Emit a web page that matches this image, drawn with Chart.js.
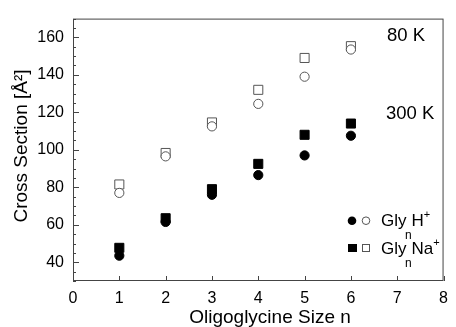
<!DOCTYPE html>
<html>
<head>
<meta charset="utf-8">
<script src="https://cdn.jsdelivr.net/npm/chart.js@4/dist/chart.umd.min.js"></script>
<style>
  html, body { margin: 0; padding: 0; background: #fff; }
  #wrap { width: 456px; height: 327px; }
</style>
</head>
<body>
<div id="wrap"><canvas id="chart" width="456" height="327"></canvas></div>
<script>
const sizes = [1, 2, 3, 4, 5, 6];
const hCold = [77, 96.5, 112.5, 124.5, 139, 153.5];   // Gly_nH+ 80 K (open circles)
const naCold = [81.5, 98.3, 114.6, 132, 149, 155.3];  // Gly_nNa+ 80 K (open squares)
const hWarm = [43.5, 61.5, 76, 86.5, 97, 107.5];      // Gly_nH+ 300 K (filled circles)
const naWarm = [47.7, 63.5, 79, 92.5, 108, 114];      // Gly_nNa+ 300 K (filled squares)
const xTicks = [0, 1, 2, 3, 4, 5, 6, 7, 8];
const yTicks = [40, 60, 80, 100, 120, 140, 160];

const FONT = "'Liberation Sans', Arial, Helvetica, sans-serif";
const AXIS = "#444";

function pts(ys) {
  return sizes.map((n, i) => ({ x: n, y: ys[i] }));
}

function series(ys, style, filled) {
  return {
    data: pts(ys),
    pointStyle: style,
    pointRadius: style === "rect" ? 6.4 : 4.6,
    pointBackgroundColor: filled ? "#000" : "#fff",
    pointBorderColor: filled ? "#000" : "#555",
    pointBorderWidth: 1,
    showLine: false
  };
}

// frame, inward ticks, titles and annotations
const decor = {
  id: "decor",
  afterDraw(chart) {
    const ctx = chart.ctx;
    const a = chart.chartArea;
    const xs = chart.scales.x, ys = chart.scales.y;
    ctx.save();
    ctx.strokeStyle = AXIS;
    ctx.lineWidth = 1;
    ctx.strokeRect(a.left + 0.5, a.top + 0.5, a.right - a.left - 1, a.bottom - a.top - 1);

    ctx.beginPath();
    for (let v = 30; v <= 170; v += 5) {
      const y = Math.round(ys.getPixelForValue(v)) + 0.5;
      const len = v % 20 === 0 ? 6 : 3;
      ctx.moveTo(a.left, y);
      ctx.lineTo(a.left + len, y);
    }
    xTicks.forEach(v => {
      const x = Math.round(xs.getPixelForValue(v)) + 0.5;
      ctx.moveTo(x, a.bottom);
      ctx.lineTo(x, a.bottom - 5);
    });
    ctx.stroke();

    ctx.fillStyle = "#000";
    ctx.textBaseline = "alphabetic";

    // axis titles
    ctx.font = "19px " + FONT;
    ctx.textAlign = "center";
    ctx.fillText("Oligoglycine Size n", 270, 323);
    ctx.save();
    ctx.translate(27, 146);
    ctx.rotate(-Math.PI / 2);
    ctx.fillText("Cross Section [Å²]", 0, 0);
    ctx.restore();

    // temperature labels
    ctx.font = "18.5px " + FONT;
    ctx.textAlign = "left";
    ctx.fillText("80 K", 387, 41);
    ctx.fillText("300 K", 386, 118.5);

    // legend
    const rows = [
      { y: 220.7, ion: "H", style: "circle" },
      { y: 248, ion: "Na", style: "rect" }
    ];
    rows.forEach(r => {
      ctx.lineWidth = 1;
      if (r.style === "circle") {
        ctx.beginPath();
        ctx.arc(352, r.y, 4.3, 0, Math.PI * 2);
        ctx.fillStyle = "#000";
        ctx.fill();
        ctx.beginPath();
        ctx.arc(366, r.y, 3.8, 0, Math.PI * 2);
        ctx.strokeStyle = "#555";
        ctx.stroke();
      } else {
        ctx.fillStyle = "#000";
        ctx.fillRect(348, r.y - 4, 9, 8);
        ctx.strokeStyle = "#555";
        ctx.strokeRect(362.5, r.y - 3.5, 7, 7);
      }
      ctx.fillStyle = "#000";
      ctx.font = "17px " + FONT;
      const base = r.y + 5.5;
      ctx.fillText("Gly", 381, base);
      const gEnd = 381 + ctx.measureText("Gly").width;
      ctx.font = "12px " + FONT;
      ctx.fillText("n", gEnd - 1.5, base + 13);
      let x = gEnd + 5;
      ctx.font = "17px " + FONT;
      ctx.fillText(r.ion, x, base);
      x += ctx.measureText(r.ion).width;
      ctx.font = "11px " + FONT;
      ctx.fillText("+", x, base - 8);
    });
    ctx.restore();
  }
};

new Chart(document.getElementById("chart"), {
  type: "scatter",
  data: {
    datasets: [
      series(hCold, "circle", false),
      series(naCold, "rect", false),
      series(hWarm, "circle", true),
      series(naWarm, "rect", true)
    ]
  },
  options: {
    responsive: false,
    animation: false,
    layout: { padding: { left: 0, right: 5, top: 13, bottom: 0 } },
    plugins: { legend: { display: false }, tooltip: { enabled: false } },
    scales: {
      x: {
        type: "linear",
        min: 0,
        max: 8,
        afterBuildTicks: s => { s.ticks = xTicks.map(v => ({ value: v })); },
        afterFit: s => { s.height = 46; },
        grid: { display: false, drawTicks: false },
        border: { display: false },
        ticks: { color: "#000", font: { size: 16, family: FONT }, padding: 8, maxRotation: 0 }
      },
      y: {
        type: "linear",
        min: 30,
        max: 170,
        afterBuildTicks: s => { s.ticks = yTicks.map(v => ({ value: v })); },
        afterFit: s => { s.width = 73; },
        grid: { display: false, drawTicks: false },
        border: { display: false },
        ticks: { color: "#000", font: { size: 16, family: FONT }, padding: 9 }
      }
    }
  },
  plugins: [decor]
});
</script>
</body>
</html>
